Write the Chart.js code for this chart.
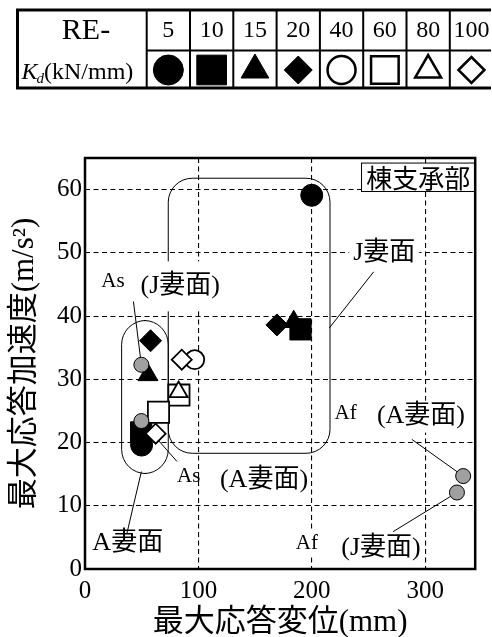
<!DOCTYPE html>
<html>
<head>
<meta charset="utf-8">
<script src="https://cdn.jsdelivr.net/npm/chart.js@4.4.1/dist/chart.umd.min.js"></script>
<style>
  html, body { margin: 0; padding: 0; background: #fff; }
  #wrap { width: 492px; height: 637px; }
</style>
</head>
<body>
<div id="wrap"><canvas id="chart"></canvas></div>
<script>
var SERIF = '"Liberation Serif", "Noto Sans CJK JP", serif';
var GOTHIC = '"Noto Sans CJK JP", sans-serif';

// stiffness classes RE-5 ... RE-100 (kN/mm)
var reLabels = ['5', '10', '15', '20', '40', '60', '80', '100'];

// max displacement (mm) / max acceleration (m/s2) at ridge bearing
var re5 = [{x: 49.9, y: 19.6}, {x: 199.9, y: 59.1}];
var re10 = [{x: 49.5, y: 21.6}, {x: 190.0, y: 37.9}];
var re15 = [{x: 55.5, y: 30.7}, {x: 184.0, y: 39.1}];
var re20 = [{x: 57.8, y: 36.1}, {x: 169.2, y: 38.6}];
var re40 = [{x: 96.7, y: 33.1}];
var re60 = [{x: 82.8, y: 27.5}, {x: 64.8, y: 24.8}];
var re80 = [{x: 82.5, y: 28.0}];
var re100 = [{x: 85.3, y: 33.1}, {x: 62.3, y: 21.4}];
// As / Af cases (grey)
var asAf = [{x: 49.7, y: 32.3}, {x: 49.7, y: 23.4}, {x: 333.4, y: 14.7}, {x: 327.9, y: 12.1}];

var xTicks = [0, 100, 200, 300];
var yTicks = [0, 10, 20, 30, 40, 50, 60];

var filledSet = function (data, style, r, order) {
    return {
        data: data, pointStyle: style, pointRadius: r, pointHoverRadius: r,
        pointBackgroundColor: '#000', pointBorderColor: '#000', pointBorderWidth: 1,
        order: order
    };
};
var openSet = function (data, style, r, order) {
    return {
        data: data, pointStyle: style, pointRadius: r, pointHoverRadius: r,
        pointBackgroundColor: '#fff', pointBorderColor: '#000', pointBorderWidth: 1.8,
        order: order
    };
};

var datasets = [
    filledSet(re5, 'circle', 11, 9),
    filledSet(re10, 'rect', 15, 6),
    filledSet(re15, 'triangle', 11.5, 8),
    filledSet(re20, 'rectRot', 11, 7),
    openSet(re40, 'circle', 9.5, 5),
    openSet(re60, 'rect', 15, 4),
    openSet(re80, 'triangle', 10.5, 2),
    openSet(re100, 'rectRot', 10, 3),
    {
        data: asAf, pointStyle: 'circle', pointRadius: 7.5, pointHoverRadius: 7.5,
        pointBackgroundColor: '#a0a0a0', pointBorderColor: '#000', pointBorderWidth: 1,
        order: 0
    }
];

var legendMarks = [
    {style: 'circle', r: 15, fill: '#000'},
    {style: 'rect', r: 21, fill: '#000'},
    {style: 'triangle', r: 16, fill: '#000'},
    {style: 'rectRot', r: 14, fill: '#000'},
    {style: 'circle', r: 14, fill: '#fff'},
    {style: 'rect', r: 19.5, fill: '#fff'},
    {style: 'triangle', r: 15, fill: '#fff'},
    {style: 'rectRot', r: 13, fill: '#fff'}
];

var drawMark = function (ctx, m, x, y, bw) {
    ctx.save();
    ctx.fillStyle = m.fill;
    ctx.strokeStyle = '#000';
    ctx.lineWidth = bw;
    Chart.helpers.drawPoint(ctx, {pointStyle: m.style, radius: m.r, borderWidth: bw, rotation: 0}, x, y);
    ctx.restore();
};

var label = function (ctx, text, x, y, size, font, bg) {
    ctx.font = size + 'px ' + font;
    ctx.textAlign = 'center';
    ctx.textBaseline = 'middle';
    if (bg) {
        var w = ctx.measureText(text).width;
        ctx.fillStyle = '#fff';
        ctx.fillRect(x - w / 2 - bg[0], y - bg[1], w + 2 * bg[0], 2 * bg[1]);
    }
    ctx.fillStyle = '#000';
    ctx.fillText(text, x, y);
};

var roundBox = function (ctx, x0, y0, x1, y1, r) {
    ctx.beginPath();
    ctx.moveTo(x0 + r, y0);
    ctx.lineTo(x1 - r, y0);
    ctx.arcTo(x1, y0, x1, y0 + r, r);
    ctx.lineTo(x1, y1 - r);
    ctx.arcTo(x1, y1, x1 - r, y1, r);
    ctx.lineTo(x0 + r, y1);
    ctx.arcTo(x0, y1, x0, y1 - r, r);
    ctx.lineTo(x0, y0 + r);
    ctx.arcTo(x0, y0, x0 + r, y0, r);
    ctx.closePath();
    ctx.stroke();
};

var notes = {
    id: 'notes',
    beforeDatasetsDraw: function (chart) {
        var ctx = chart.ctx, sx = chart.scales.x, sy = chart.scales.y;
        var X = function (v) { return sx.getPixelForValue(v); };
        var Y = function (v) { return sy.getPixelForValue(v); };
        ctx.save();
        ctx.strokeStyle = '#000';
        ctx.lineWidth = 1;
        // group outlines
        roundBox(ctx, X(32.3), Y(39.3), X(73.4), Y(15.1), 24);
        roundBox(ctx, X(73.4), Y(61.8), X(216), Y(18.3), 24);
        // leader lines
        var lines = [
            [42.7, 42.3, 49.7, 32.3],
            [254.5, 47.0, 215.3, 38.1],
            [49.7, 23.4, 81.1, 17.0],
            [36.9, 5.6, 49.7, 15.4],
            [288.1, 20.5, 333.4, 14.7],
            [271.6, 5.9, 327.9, 12.1]
        ];
        lines.forEach(function (l) {
            ctx.beginPath();
            ctx.moveTo(X(l[0]), Y(l[1]));
            ctx.lineTo(X(l[2]), Y(l[3]));
            ctx.stroke();
        });
        // labels
        label(ctx, 'As', X(24.6), Y(45.5), 21, SERIF);
        label(ctx, '(J妻面)', X(84), Y(44.7), 26, SERIF, [2, 25]);
        label(ctx, 'J妻面', X(263.8), Y(50), 26, SERIF, [4, 16]);
        label(ctx, 'As', X(91.4), Y(14.6), 21, SERIF);
        label(ctx, '(A妻面)', X(157.8), Y(14.1), 26, SERIF);
        label(ctx, 'A妻面', X(37.7), Y(4.1), 26, SERIF);
        label(ctx, 'Af', X(229.7), Y(24.6), 21, SERIF);
        label(ctx, '(A妻面)', X(296.2), Y(24.1), 26, SERIF, [2, 16]);
        label(ctx, 'Af', X(195.6), Y(4.1), 21, SERIF, [2, 14]);
        label(ctx, '(J妻面)', X(260.9), Y(3.3), 26, SERIF);
        // location box
        var bx0 = X(243.8), by0 = Y(64.2), by1 = Y(59.7), bx1 = chart.chartArea.right;
        ctx.fillStyle = '#fff';
        ctx.fillRect(bx0, by0, bx1 - bx0, by1 - by0);
        ctx.strokeRect(bx0, by0, bx1 - bx0, by1 - by0);
        label(ctx, '棟支承部', (bx0 + bx1) / 2, (by0 + by1) / 2 + 1, 26, GOTHIC);
        ctx.restore();
    },
    afterDraw: function (chart) {
        var ctx = chart.ctx, a = chart.chartArea;
        ctx.save();
        ctx.strokeStyle = '#000';
        ctx.lineWidth = 2.5;
        ctx.strokeRect(a.left, a.top, a.right - a.left, a.bottom - a.top);

        // stiffness legend table
        var top = 10, bot = 88, left = 17.5, right = 491, mid = 50.5, c0 = 146.7, cw = 43.3;
        ctx.lineWidth = 2;
        for (var i = 0; i < reLabels.length; i++) {
            var cx = c0 + cw * i;
            ctx.beginPath();
            ctx.moveTo(cx, top);
            ctx.lineTo(cx, bot);
            ctx.stroke();
            label(ctx, reLabels[i], cx + cw / 2, 31, 24, SERIF);
            drawMark(ctx, legendMarks[i], cx + cw / 2, 70, i < 4 ? 1 : 2.5);
        }
        ctx.beginPath();
        ctx.moveTo(c0, mid);
        ctx.lineTo(right, mid);
        ctx.stroke();
        ctx.lineWidth = 3;
        ctx.beginPath();
        ctx.moveTo(right, top);
        ctx.lineTo(left, top);
        ctx.lineTo(left, bot);
        ctx.lineTo(right, bot);
        ctx.stroke();
        label(ctx, 'RE-', 86, 31, 30, SERIF);
        ctx.textAlign = 'left';
        ctx.textBaseline = 'alphabetic';
        ctx.font = 'italic 24px ' + SERIF;
        ctx.fillText('K', 21.5, 79);
        var kw = ctx.measureText('K').width;
        ctx.font = 'italic 15px ' + SERIF;
        ctx.fillText('d', 21.5 + kw - 1, 83);
        var dw = ctx.measureText('d').width;
        ctx.font = '24px ' + SERIF;
        ctx.fillText('(kN/mm)', 21.5 + kw + dw - 1, 79);
        ctx.restore();
    }
};

new Chart(document.getElementById('chart'), {
    type: 'scatter',
    data: {datasets: datasets},
    options: {
        responsive: true,
        maintainAspectRatio: false,
        animation: false,
        layout: {padding: {left: 0, right: 4, top: 158, bottom: 0}},
        plugins: {legend: {display: false}, tooltip: {enabled: false}},
        scales: {
            x: {
                type: 'linear',
                min: 0,
                max: 344,
                afterFit: function (s) { s.height = 68; },
                afterBuildTicks: function (s) { s.ticks = xTicks.map(function (v) { return {value: v}; }); },
                grid: {color: '#000', lineWidth: 1.1, drawTicks: false},
                border: {display: false, dash: [5, 3.5]},
                ticks: {color: '#000', padding: 7, maxRotation: 0, font: {family: SERIF, size: 25}},
                title: {
                    display: true, text: '最大応答変位(mm)', color: '#000',
                    font: {family: SERIF, size: 31, lineHeight: 0.9}, padding: {top: 0, bottom: 0}
                }
            },
            y: {
                type: 'linear',
                min: 0,
                max: 65,
                afterFit: function (s) { s.width = 85; },
                afterBuildTicks: function (s) { s.ticks = yTicks.map(function (v) { return {value: v}; }); },
                grid: {color: '#000', lineWidth: 1.1, drawTicks: false},
                border: {display: false, dash: [5, 3.5]},
                ticks: {color: '#000', padding: 3, font: {family: SERIF, size: 25}},
                title: {
                    display: true, text: '最大応答加速度(m/s²)', color: '#000',
                    font: {family: SERIF, size: 31, lineHeight: 1.2}, padding: {top: 6, bottom: 0}
                }
            }
        }
    },
    plugins: [notes]
});
</script>
</body>
</html>
